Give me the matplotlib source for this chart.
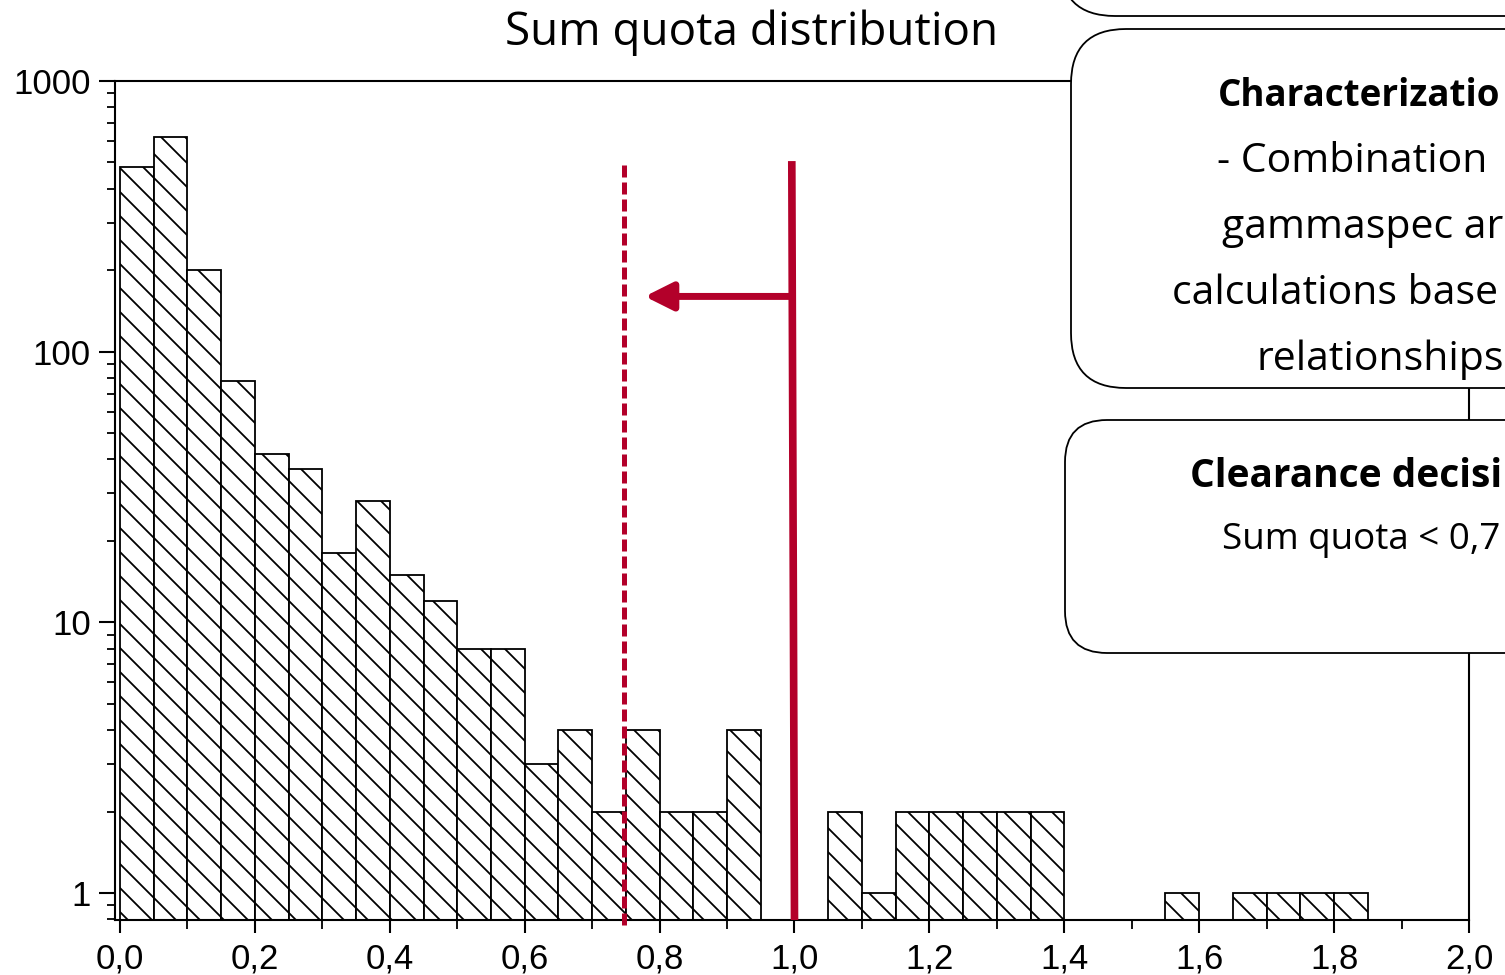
import numpy as np
import matplotlib
matplotlib.use("Agg")
import matplotlib.pyplot as plt
from matplotlib.patches import FancyBboxPatch
from matplotlib.ticker import FixedLocator, FuncFormatter, NullFormatter, LogLocator

# histogram of sum quotas, bins of 0.05
bin_left = [0.00, 0.05, 0.10, 0.15, 0.20, 0.25, 0.30, 0.35, 0.40, 0.45,
            0.50, 0.55, 0.60, 0.65, 0.70, 0.75, 0.80, 0.85, 0.90, 0.95,
            1.00, 1.05, 1.10, 1.15, 1.20, 1.25, 1.30, 1.35, 1.40, 1.45,
            1.50, 1.55, 1.60, 1.65, 1.70, 1.75, 1.80, 1.85, 1.90, 1.95]
counts = [480, 620, 200, 78, 42, 37, 18, 28, 15, 12,
          8, 8, 3, 4, 2, 4, 2, 2, 4, 0,
          0, 2, 1, 2, 2, 2, 2, 2, 0, 0,
          0, 1, 0, 1, 1, 1, 1, 0, 0, 0]
bin_width = 0.05

x_major = [0.0, 0.2, 0.4, 0.6, 0.8, 1.0, 1.2, 1.4, 1.6, 1.8, 2.0]
x_minor = [0.1, 0.3, 0.5, 0.7, 0.9, 1.1, 1.3, 1.5, 1.7, 1.9]
y_major = [1, 10, 100, 1000]

old_limit = 1.0
new_limit = 0.75

title = "Sum quota distribution"
# the slide boxes run off the right edge, only the visible part is shown
box_lines = ["Characterizatio", "- Combination", "gammaspec ar",
             "calculations base", "relationships"]
decision_lines = ["Clearance decisi", "Sum quota < 0,7"]

red = "#B3002A"
slide_font = "Open Sans"

# drawn at 72 dpi so the hatch spacing comes out close to the original;
# sizes below are given as at 100 dpi and scaled by S
DPI = 72
S = 100 / DPI

plt.rcParams['font.family'] = 'Liberation Sans'
plt.rcParams['hatch.linewidth'] = 1.8

W, H = 1505, 975
fig = plt.figure(figsize=(W / DPI, H / DPI), dpi=DPI)
ax = fig.add_axes([115 / W, 55 / H, 1354 / W, 839 / H])

keep = [i for i, c in enumerate(counts) if c > 0]
ax.bar([bin_left[i] for i in keep], [counts[i] for i in keep],
       width=bin_width, align='edge', facecolor='white', edgecolor='black',
       linewidth=1.3 * S, hatch='\\', log=True)

ax.set_yscale('log')
ax.set_ylim(0.795, 1000)
ax.set_xlim(-0.0074, 2.0)

ax.yaxis.set_major_locator(FixedLocator(y_major))
ax.yaxis.set_major_formatter(FuncFormatter(lambda v, p: f"{v:g}"))
ax.yaxis.set_minor_locator(LogLocator(base=10, subs=np.arange(2, 10)))
ax.yaxis.set_minor_formatter(NullFormatter())
ax.xaxis.set_major_locator(FixedLocator(x_major))
ax.xaxis.set_minor_locator(FixedLocator(x_minor))
ax.xaxis.set_major_formatter(FuncFormatter(lambda v, p: f"{v:.1f}".replace('.', ',')))

ax.tick_params(axis='y', which='major', length=11.5 * S, width=1.5 * S,
               labelsize=25 * S, pad=6 * S)
ax.tick_params(axis='y', which='minor', length=6 * S, width=1.3 * S)
ax.tick_params(axis='x', which='major', length=9.5 * S, width=1.5 * S,
               labelsize=25 * S, pad=7 * S)
ax.tick_params(axis='x', which='minor', length=6.5 * S, width=1.3 * S)
for s in ax.spines.values():
    s.set_linewidth(1.5 * S)

# red limit markers
ax.plot([old_limit - 0.004, old_limit], [506, 0.795], color=red, lw=5.5 * S,
        solid_capstyle='butt', clip_on=False, zorder=4)
ax.plot([new_limit - 0.003, new_limit - 0.003], [489, 0.762], color=red,
        lw=3.6 * S, linestyle=(0, (2.4, 1.0)), clip_on=False, zorder=4)
ax.annotate('', xy=(new_limit + 0.028, 160), xytext=(old_limit - 0.004, 160),
            arrowprops=dict(arrowstyle='-|>', lw=5 * S, color=red,
                            mutation_scale=42 * S, shrinkA=0, shrinkB=0),
            zorder=4)

# slide overlay in pixel coordinates
ov = fig.add_axes([0, 0, 1, 1], zorder=5)
ov.set_xlim(0, W)
ov.set_ylim(H, 0)
ov.axis('off')

ov.text(752, 45, title, ha='center', va='baseline', fontsize=33 * S,
        family=slide_font)

ov.add_patch(FancyBboxPatch((1060, -300), 900, 316,
                            boxstyle="round,pad=0,rounding_size=55",
                            fc='white', ec='black', lw=1.3 * S))
ov.add_patch(FancyBboxPatch((1071, 29), 900, 359,
                            boxstyle="round,pad=0,rounding_size=55",
                            fc='white', ec='black', lw=1.3 * S))
ov.add_patch(FancyBboxPatch((1065, 420), 900, 233,
                            boxstyle="round,pad=0,rounding_size=42",
                            fc='white', ec='black', lw=1.3 * S))

line_x = [1218, 1217, 1222, 1172, 1256]
line_y = [106, 172, 238, 304, 370]
for i, (txt, lx, ly) in enumerate(zip(box_lines, line_x, line_y)):
    bold = i == 0
    ov.text(lx, ly, txt, ha='left', va='baseline',
            fontsize=(26.5 if bold else 29.5) * S,
            family=slide_font, fontweight='bold' if bold else 'normal')

ov.text(1190, 487, decision_lines[0], ha='left', va='baseline', fontsize=28 * S,
        family=slide_font, fontweight='bold')
ov.text(1222, 549, decision_lines[1], ha='left', va='baseline', fontsize=26.5 * S,
        family=slide_font)

fig.savefig('out.png', dpi=DPI)
